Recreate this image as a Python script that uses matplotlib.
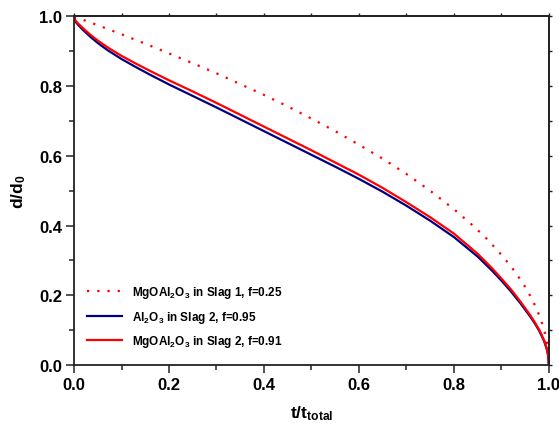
import matplotlib
matplotlib.use("Agg")
import matplotlib.pyplot as plt
from matplotlib.ticker import MultipleLocator, FormatStrFormatter, NullFormatter

plt.rcParams['font.family'] = ['Liberation Sans', 'DejaVu Sans']
plt.rcParams['font.weight'] = 'bold'
plt.rcParams['axes.labelweight'] = 'bold'
plt.rcParams['mathtext.fontset'] = 'custom'
plt.rcParams['mathtext.rm'] = 'Liberation Sans:bold'
plt.rcParams['mathtext.bf'] = 'Liberation Sans:bold'
plt.rcParams['mathtext.it'] = 'Liberation Sans:bold'
plt.rcParams['mathtext.default'] = 'bf'

# Data
t_slag1 = [0, 0.05, 0.1, 0.15, 0.2, 0.25, 0.3, 0.35, 0.4, 0.45, 0.5, 0.55, 0.6, 0.65, 0.7, 0.75,
           0.8, 0.84, 0.87, 0.9, 0.92, 0.94, 0.95, 0.96, 0.97, 0.98, 0.985, 0.99, 0.995, 0.998, 1.0]
d_slag1 = [1.0, 0.975, 0.949, 0.922, 0.894, 0.866, 0.837, 0.806, 0.775, 0.742, 0.707, 0.671, 0.632,
           0.592, 0.548, 0.500, 0.447, 0.400, 0.361, 0.316, 0.283, 0.245, 0.224, 0.200, 0.173, 0.141,
           0.122, 0.100, 0.071, 0.045, 0.0]

t_slag2 = [0, 0.002, 0.005, 0.01, 0.02, 0.035, 0.05, 0.07, 0.1, 0.13, 0.16, 0.2, 0.25, 0.3, 0.35,
           0.4, 0.45, 0.5, 0.55, 0.6, 0.65, 0.7, 0.75, 0.8, 0.85, 0.88, 0.9, 0.92, 0.94, 0.96, 0.97,
           0.98, 0.99, 0.995, 0.998, 1.0]
d_al2o3 = [1.0, 0.988, 0.982, 0.974, 0.960, 0.941, 0.924, 0.904, 0.878, 0.855, 0.833, 0.805, 0.772,
           0.739, 0.705, 0.671, 0.637, 0.603, 0.569, 0.534, 0.497, 0.457, 0.414, 0.367, 0.311, 0.271,
           0.242, 0.211, 0.177, 0.140, 0.120, 0.097, 0.068, 0.048, 0.030, 0.0]
d_mgo = [1.0, 0.991, 0.985, 0.978, 0.965, 0.947, 0.931, 0.912, 0.887, 0.865, 0.844, 0.817, 0.785,
         0.752, 0.718, 0.684, 0.650, 0.616, 0.581, 0.546, 0.508, 0.467, 0.424, 0.377, 0.319, 0.278,
         0.248, 0.217, 0.182, 0.144, 0.123, 0.100, 0.070, 0.049, 0.031, 0.0]

labels = ['MgOAl$_2$O$_3$ in Slag 1, f=0.25',
          'Al$_2$O$_3$ in Slag 2, f=0.95',
          'MgOAl$_2$O$_3$ in Slag 2, f=0.91']

fig = plt.figure(figsize=(5.59, 4.31), dpi=100)
ax = fig.add_axes([0.1324, 0.1508, 0.8496, 0.8086])

ax.plot(t_slag1, d_slag1, color='#ff0000', lw=1.6, linestyle=(0, (1, 3.6)), label=labels[0])
ax.plot(t_slag2, d_al2o3, color='#000080', lw=1.6, label=labels[1])
ax.plot(t_slag2, d_mgo, color='#ff0000', lw=1.6, label=labels[2])

ax.set_xlim(0, 1)
ax.set_ylim(0, 1)
for axis in (ax.xaxis, ax.yaxis):
    axis.set_major_locator(MultipleLocator(0.2))
    axis.set_minor_locator(MultipleLocator(0.1))
    axis.set_major_formatter(FormatStrFormatter('%.1f'))

for s in ax.spines.values():
    s.set_linewidth(1.3)
    s.set_color('#222222')

ax.tick_params(which='major', direction='out', length=5.5, width=1.1, labelsize=12, pad=3,
               color='#222222')
ax.tick_params(which='minor', direction='out', length=3.5, width=1.1, color='#222222')
for lab in ax.get_xticklabels() + ax.get_yticklabels():
    lab.set_fontweight('bold')

# short ticks on top and right
sx = ax.secondary_xaxis('top')
sx.xaxis.set_major_locator(MultipleLocator(0.1))
sx.xaxis.set_major_formatter(NullFormatter())
sx.tick_params(direction='out', length=2.5, width=1.0, color='#222222')
sy = ax.secondary_yaxis('right')
sy.yaxis.set_major_locator(MultipleLocator(0.1))
sy.yaxis.set_major_formatter(NullFormatter())
sy.tick_params(direction='out', length=2.5, width=1.0, color='#222222')
for s in list(sx.spines.values()) + list(sy.spines.values()):
    s.set_linewidth(1.3)
    s.set_color('#222222')

ax.set_xlabel('t/t$_{total}$', fontsize=12.5, fontweight='bold', labelpad=8)
ax.set_ylabel('d/d$_0$', fontsize=12.5, fontweight='bold', labelpad=8)

leg = ax.legend(loc='lower left', bbox_to_anchor=(0.027, 0.045), frameon=False,
                fontsize=8.5, handlelength=3.0, handletextpad=0.8, labelspacing=0.72,
                borderaxespad=0, borderpad=0)
for txt in leg.get_texts():
    txt.set_fontweight('bold')

fig.savefig('out.png', dpi=100)
